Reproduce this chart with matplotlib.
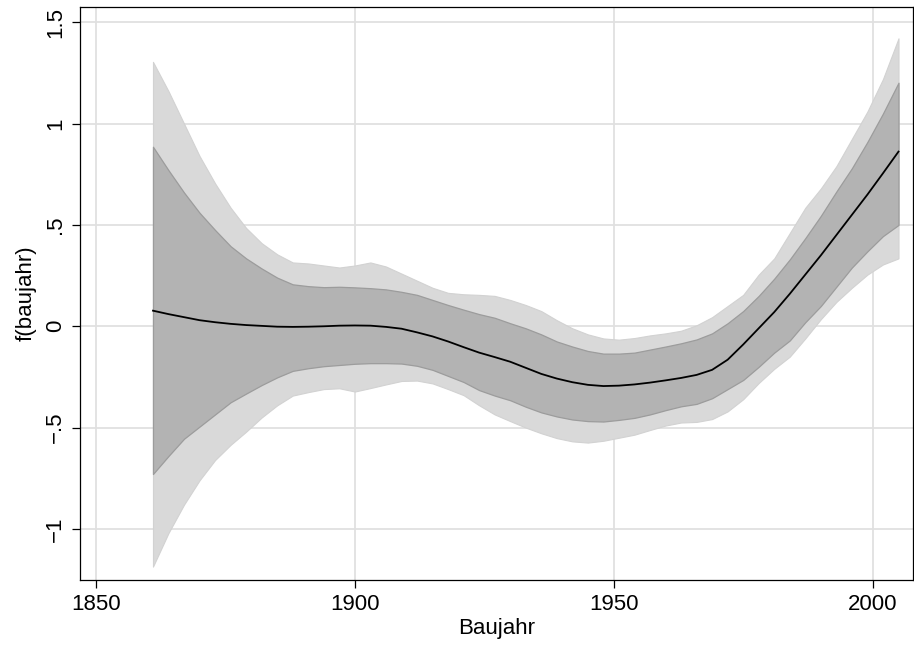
import matplotlib
matplotlib.use("Agg")
import matplotlib.pyplot as plt
import numpy as np

plt.rcParams['font.family'] = ['Liberation Sans Narrow', 'Liberation Sans', 'DejaVu Sans']

# Baujahr grid and estimated smooth effect with two confidence bands
years = [1861, 1864, 1867, 1870, 1873, 1876, 1879, 1882, 1885, 1888, 1891, 1894,
         1897, 1900, 1903, 1906, 1909, 1912, 1915, 1918, 1921, 1924, 1927, 1930,
         1933, 1936, 1939, 1942, 1945, 1948, 1951, 1954, 1957, 1960, 1963, 1966,
         1969, 1972, 1975, 1978, 1981, 1984, 1987, 1990, 1993, 1996, 1999, 2002,
         2005]
fit = [0.077, 0.06, 0.045, 0.03, 0.02, 0.012, 0.006, 0.002, -0.002, -0.003,
       -0.002, 0.0, 0.003, 0.004, 0.003, -0.003, -0.012, -0.03, -0.05, -0.075,
       -0.103, -0.13, -0.152, -0.175, -0.205, -0.235, -0.258, -0.276, -0.289,
       -0.295, -0.293, -0.287, -0.278, -0.267, -0.255, -0.24, -0.215, -0.165,
       -0.09, -0.01, 0.07, 0.16, 0.255, 0.35, 0.45, 0.55, 0.65, 0.755, 0.862]
inner_hi = [0.886, 0.77, 0.66, 0.56, 0.475, 0.395, 0.335, 0.285, 0.24, 0.207,
            0.198, 0.193, 0.195, 0.192, 0.188, 0.182, 0.17, 0.155, 0.13, 0.105,
            0.082, 0.06, 0.042, 0.015, -0.01, -0.04, -0.075, -0.1, -0.122,
            -0.135, -0.135, -0.13, -0.115, -0.1, -0.084, -0.065, -0.035, 0.015,
            0.075, 0.15, 0.235, 0.33, 0.435, 0.545, 0.665, 0.78, 0.91, 1.05, 1.202]
inner_lo = [-0.729, -0.64, -0.555, -0.495, -0.435, -0.375, -0.332, -0.29, -0.252,
            -0.22, -0.207, -0.197, -0.191, -0.185, -0.182, -0.182, -0.184, -0.195,
            -0.215, -0.245, -0.275, -0.315, -0.342, -0.365, -0.397, -0.425, -0.445,
            -0.46, -0.468, -0.47, -0.462, -0.452, -0.435, -0.414, -0.395, -0.383,
            -0.355, -0.31, -0.265, -0.2, -0.13, -0.07, 0.02, 0.1, 0.195, 0.29,
            0.37, 0.445, 0.5]
outer_hi = [1.305, 1.16, 1.0, 0.84, 0.705, 0.585, 0.485, 0.41, 0.355, 0.315, 0.31,
            0.3, 0.29, 0.3, 0.315, 0.295, 0.26, 0.225, 0.19, 0.165, 0.158, 0.155,
            0.15, 0.13, 0.105, 0.075, 0.03, -0.01, -0.04, -0.06, -0.066, -0.058,
            -0.045, -0.035, -0.022, 0.005, 0.045, 0.1, 0.155, 0.255, 0.335, 0.46,
            0.585, 0.68, 0.79, 0.925, 1.06, 1.22, 1.421]
outer_lo = [-1.186, -1.02, -0.88, -0.76, -0.66, -0.585, -0.52, -0.45, -0.39,
            -0.342, -0.325, -0.31, -0.306, -0.322, -0.305, -0.287, -0.27, -0.268,
            -0.282, -0.31, -0.34, -0.39, -0.435, -0.468, -0.5, -0.528, -0.552,
            -0.568, -0.574, -0.565, -0.55, -0.535, -0.512, -0.49, -0.475, -0.472,
            -0.458, -0.42, -0.36, -0.28, -0.21, -0.15, -0.06, 0.035, 0.12, 0.19,
            0.255, 0.305, 0.335]

xticks = [1850, 1900, 1950, 2000]
yticks = [-1, -0.5, 0, 0.5, 1, 1.5]
ytick_labels = ['\u22121', '\u2212.5', '0', '.5', '1', '1.5']

fig = plt.figure(figsize=(9.14, 6.46), dpi=100)
ax = fig.add_axes([0.0875, 0.1022, 0.9114, 0.8874])

ax.fill_between(years, outer_lo, outer_hi, facecolor='#d9d9d9',
                edgecolor='#d2d2d2', linewidth=0.8, zorder=2)
ax.fill_between(years, inner_lo, inner_hi, facecolor='#b3b3b3',
                edgecolor='#9c9c9c', linewidth=0.9, zorder=3)
ax.plot(years, fit, color='black', linewidth=1.3, zorder=4)

ax.set_xlim(1846.9, 2007.8)
ax.set_ylim(-1.252, 1.577)
ax.set_xticks(xticks)
ax.set_yticks(yticks)
ax.set_yticklabels(ytick_labels, rotation=90, va='center')
ax.grid(True, color='#e0e0e0', linewidth=1.3, zorder=0)
ax.set_axisbelow(True)

for sp in ax.spines.values():
    sp.set_color('black')
    sp.set_linewidth(0.9)
ax.tick_params(direction='out', length=6, width=0.9, labelsize=16, pad=4)

ax.set_xlabel('Baujahr', fontsize=16, labelpad=2)
ax.set_ylabel('f(baujahr)', fontsize=16, labelpad=6)

fig.savefig('out.png', dpi=100)
